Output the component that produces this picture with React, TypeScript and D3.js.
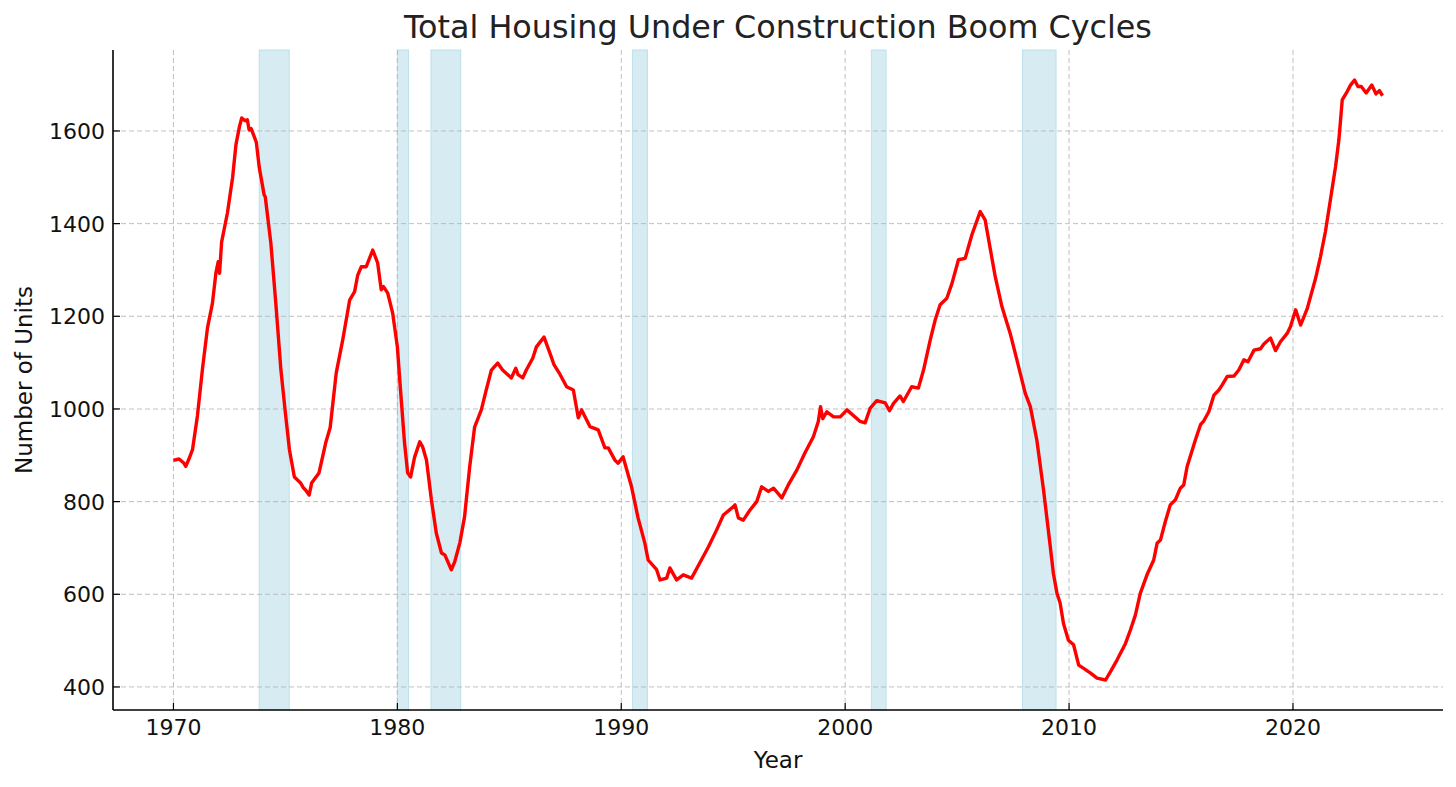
import React from "react";
import * as d3 from "d3";

// decimal year of each reading
const years = [
  1970.0, 1970.25, 1970.45, 1970.55, 1970.7, 1970.85, 1971.07, 1971.3, 1971.52, 1971.74,
  1971.9, 1972.0, 1972.06, 1972.15, 1972.41, 1972.64, 1972.79, 1972.95, 1973.05, 1973.2,
  1973.3, 1973.38, 1973.47, 1973.7, 1973.83, 1974.05, 1974.1, 1974.35, 1974.57, 1974.8,
  1975.0, 1975.18, 1975.4, 1975.68, 1975.8, 1975.9, 1976.06, 1976.17, 1976.5, 1976.8,
  1977.0, 1977.27, 1977.56, 1977.87, 1978.09, 1978.23, 1978.39, 1978.61, 1978.9, 1979.12,
  1979.28, 1979.38, 1979.57, 1979.79, 1980.0, 1980.13, 1980.32, 1980.46, 1980.59, 1980.77,
  1981.0, 1981.13, 1981.3, 1981.52, 1981.74, 1981.97, 1982.12, 1982.41, 1982.56, 1982.79,
  1983.0, 1983.23, 1983.45, 1983.75, 1983.97, 1984.2, 1984.48, 1984.7, 1985.09, 1985.29,
  1985.39, 1985.6, 1985.76, 1986.05, 1986.21, 1986.55, 1986.81, 1987.0, 1987.26, 1987.56,
  1987.86, 1988.08, 1988.23, 1988.6, 1988.97, 1989.27, 1989.42, 1989.71, 1989.86, 1990.08,
  1990.46, 1990.75, 1991.05, 1991.2, 1991.58, 1991.73, 1992.03, 1992.17, 1992.47, 1992.77,
  1993.14, 1993.51, 1993.89, 1994.26, 1994.56, 1994.93, 1995.08, 1995.23, 1995.45, 1995.75,
  1996.05, 1996.27, 1996.57, 1996.8, 1997.17, 1997.46, 1997.84, 1998.2, 1998.58, 1998.8,
  1998.9, 1999.0, 1999.18, 1999.48, 1999.78, 2000.08, 2000.67, 2000.89, 2001.12, 2001.41,
  2001.79, 2001.98, 2002.16, 2002.45, 2002.6, 2002.97, 2003.27, 2003.5, 2003.8, 2004.02,
  2004.24, 2004.54, 2004.77, 2005.06, 2005.36, 2005.66, 2006.03, 2006.25, 2006.7, 2007.0,
  2007.37, 2007.67, 2008.04, 2008.27, 2008.56, 2008.86, 2009.16, 2009.3, 2009.46, 2009.6,
  2009.75, 2009.97, 2010.2, 2010.43, 2010.65, 2010.96, 2011.25, 2011.63, 2011.85, 2012.14,
  2012.52, 2012.74, 2012.96, 2013.18, 2013.48, 2013.78, 2013.93, 2014.08, 2014.3, 2014.52,
  2014.75, 2014.97, 2015.12, 2015.27, 2015.64, 2015.87, 2016.0, 2016.24, 2016.47, 2016.69,
  2016.84, 2017.06, 2017.36, 2017.58, 2017.81, 2017.99, 2018.26, 2018.55, 2018.7, 2019.0,
  2019.22, 2019.44, 2019.74, 2019.89, 2020.12, 2020.34, 2020.64, 2021.01, 2021.23, 2021.45,
  2021.67, 2021.9, 2022.05, 2022.2, 2022.42, 2022.57, 2022.75, 2022.9, 2023.05, 2023.27,
  2023.52, 2023.71, 2023.86, 2024.0,
];

// total units under construction (thousands)
const units = [
  889, 892, 884, 876, 893, 912, 985, 1088, 1175, 1228,
  1295, 1318, 1293, 1360, 1423, 1499, 1570, 1610, 1628, 1622,
  1624, 1602, 1605, 1576, 1522, 1462, 1458, 1358, 1229, 1084,
  991, 912, 853, 840, 830, 825, 814, 840, 862, 927,
  960, 1078, 1149, 1235, 1253, 1289, 1307, 1307, 1343, 1315,
  1257, 1264, 1250, 1207, 1134, 1048, 927, 862, 853, 896,
  929, 918, 890, 804, 732, 689, 685, 653, 670, 711,
  767, 875, 961, 998, 1041, 1084, 1099, 1084, 1067, 1088,
  1074, 1067, 1084, 1110, 1134, 1155, 1121, 1095, 1075, 1048,
  1041, 981, 998, 962, 955, 916, 916, 890, 883, 897,
  832, 765, 711, 674, 653, 631, 635, 657, 631, 642,
  635, 668, 702, 739, 771, 786, 793, 765, 760, 782,
  800, 832, 822, 829, 808, 836, 868, 905, 940, 973,
  1005, 979, 994, 983, 983, 998, 973, 970, 1002, 1018,
  1013, 996, 1012, 1028, 1016, 1048, 1045, 1084, 1149, 1192,
  1225, 1239, 1271, 1322, 1325, 1376, 1426, 1408, 1286, 1221,
  1163, 1106, 1034, 1005, 933, 825, 703, 645, 602, 581,
  537, 501, 491, 447, 440, 430, 419, 415, 433, 458,
  494, 523, 555, 602, 642, 674, 710, 717, 757, 793,
  804, 829, 836, 875, 933, 966, 973, 994, 1030, 1041,
  1052, 1070, 1071, 1084, 1106, 1102, 1127, 1130, 1140, 1153,
  1126, 1145, 1163, 1178, 1214, 1181, 1217, 1282, 1329, 1383,
  1451, 1523, 1581, 1667, 1685, 1699, 1710, 1696, 1696, 1682,
  1699, 1680, 1687, 1676,
];

// recession periods (start, end) in decimal years
const recessionStarts = [1973.83, 1980.0, 1981.5, 1990.5, 2001.17, 2007.92];
const recessionEnds = [1975.17, 1980.5, 1982.83, 1991.17, 2001.83, 2009.42];

const xTicks = [1970, 1980, 1990, 2000, 2010, 2020];
const yTicks = [400, 600, 800, 1000, 1200, 1400, 1600];

const W = 1456;
const H = 787;
const m = { left: 113, right: 1443, top: 50, bottom: 710 };
const font = "'DejaVu Sans', sans-serif";
const ink = "#111";

export default function App() {
  const pts = years.map((y, i) => ({ year: y, value: units[i] }));
  const xPad = (2024 - 1970) * 0.05;
  const yMin = d3.min(units)!;
  const yMax = d3.max(units)!;
  const yPad = (yMax - yMin) * 0.05;

  const x = d3.scaleLinear().domain([1970 - xPad, 2024 + xPad]).range([m.left, m.right]);
  const y = d3.scaleLinear().domain([yMin - yPad, yMax + yPad]).range([m.bottom, m.top]);

  const line = d3
    .line<{ year: number; value: number }>()
    .x((d) => x(d.year))
    .y((d) => y(d.value));

  return (
    <svg
      width={W}
      height={H}
      style={{ position: "absolute", left: 0, top: 0, background: "#fff" }}
      fontFamily={font}
    >
      {recessionStarts.map((s, i) => (
        <rect
          key={"r" + i}
          x={x(s)}
          y={m.top}
          width={x(recessionEnds[i]) - x(s)}
          height={m.bottom - m.top}
          fill="#add8e6"
          fillOpacity={0.5}
          stroke="#add8e6"
          strokeOpacity={0.7}
          strokeWidth={1}
        />
      ))}

      {/* grid */}
      {xTicks.map((t) => (
        <line
          key={"gx" + t}
          x1={x(t)}
          x2={x(t)}
          y1={m.top}
          y2={m.bottom}
          stroke="#b0b0b0"
          strokeOpacity={0.8}
          strokeWidth={1}
          strokeDasharray="5,3"
        />
      ))}
      {yTicks.map((t) => (
        <line
          key={"gy" + t}
          x1={m.left}
          x2={m.right}
          y1={y(t)}
          y2={y(t)}
          stroke="#b0b0b0"
          strokeOpacity={0.8}
          strokeWidth={1}
          strokeDasharray="5,3"
        />
      ))}

      <path d={line(pts) ?? ""} fill="none" stroke="#ff0000" strokeWidth={3.4} strokeLinejoin="round" />

      {/* spines */}
      <line x1={m.left} x2={m.left} y1={m.top} y2={m.bottom} stroke="#000" strokeWidth={1.6} />
      <line x1={m.left} x2={m.right} y1={m.bottom} y2={m.bottom} stroke="#000" strokeWidth={1.6} />

      {/* ticks */}
      {xTicks.map((t) => (
        <g key={"tx" + t}>
          <line x1={x(t)} x2={x(t)} y1={m.bottom} y2={m.bottom - 7} stroke="#000" strokeWidth={1.2} />
          <text x={x(t)} y={m.bottom + 25} textAnchor="middle" fontSize={22} fill={ink}>
            {t}
          </text>
        </g>
      ))}
      {yTicks.map((t) => (
        <g key={"ty" + t}>
          <line x1={m.left} x2={m.left + 7} y1={y(t)} y2={y(t)} stroke="#000" strokeWidth={1.2} />
          <text x={m.left - 8} y={y(t)} dy="0.36em" textAnchor="end" fontSize={22} fill={ink}>
            {t}
          </text>
        </g>
      ))}

      <text x={(m.left + m.right) / 2} y={768} textAnchor="middle" fontSize={23} fill={ink}>
        Year
      </text>
      <text
        transform={`translate(32,${(m.top + m.bottom) / 2}) rotate(-90)`}
        textAnchor="middle"
        fontSize={23}
        fill={ink}
      >
        Number of Units
      </text>
      <text x={(m.left + m.right) / 2} y={38} textAnchor="middle" fontSize={31.8} fill="#222">
        Total Housing Under Construction Boom Cycles
      </text>
    </svg>
  );
}
